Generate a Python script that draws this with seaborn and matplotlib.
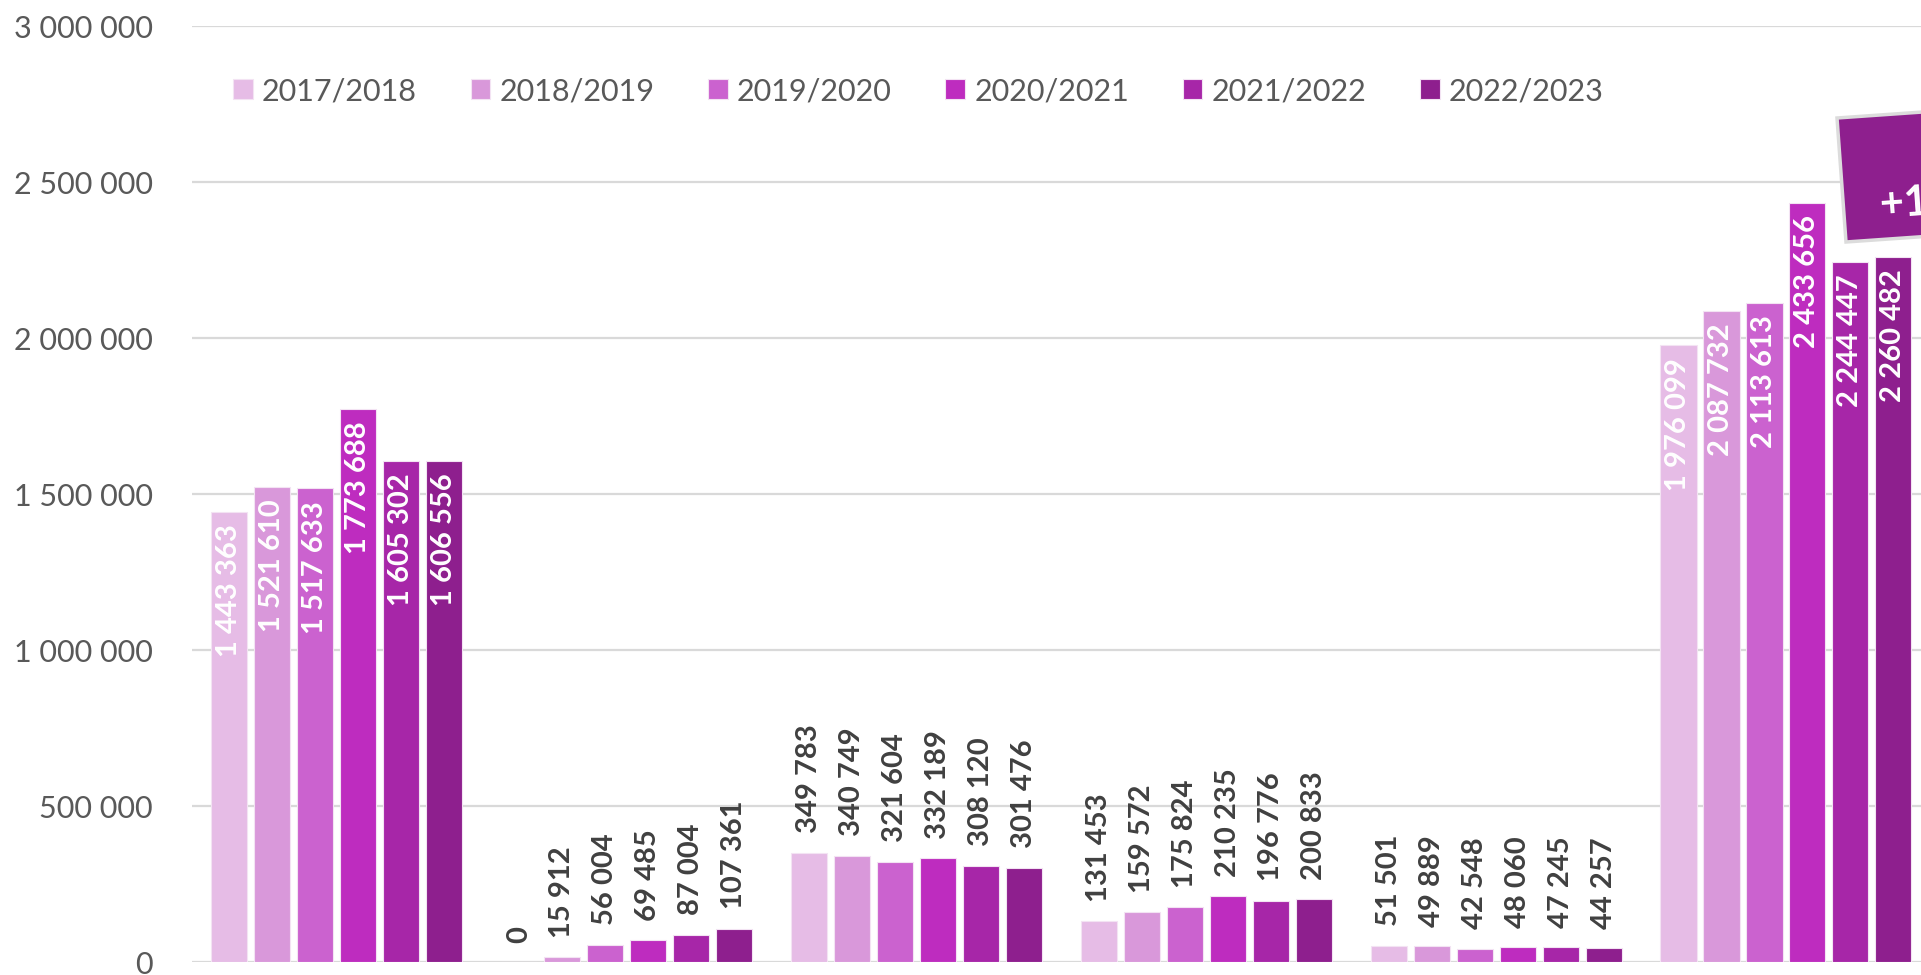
import pandas as pd
import seaborn as sns
import matplotlib.pyplot as plt
from matplotlib.patches import Polygon
from matplotlib.ticker import FuncFormatter
import math

# Data
years = ['2017/2018', '2018/2019', '2019/2020', '2020/2021', '2021/2022', '2022/2023']
categories = ['Groupe A', 'Groupe B', 'Groupe C', 'Groupe D', 'Groupe E', 'Groupe F']
group_a = [1443363, 1521610, 1517633, 1773688, 1605302, 1606556]
group_b = [0, 15912, 56004, 69485, 87004, 107361]
group_c = [349783, 340749, 321604, 332189, 308120, 301476]
group_d = [131453, 159572, 175824, 210235, 196776, 200833]
group_e = [51501, 49889, 42548, 48060, 47245, 44257]
group_f = [1976099, 2087732, 2113613, 2433656, 2244447, 2260482]
colors = ['#E6BCE6', '#D998DA', '#CB62CF', '#BE2CBF', '#A726A8', '#8E1F8E']
callout_text = '+14 %'

# Long format table for seaborn
rows = []
for cat, vals in zip(categories, [group_a, group_b, group_c, group_d, group_e, group_f]):
    for year, v in zip(years, vals):
        rows.append({'categorie': cat, 'annee': year, 'valeur': v})
df = pd.DataFrame(rows)

sns.set_theme(style='white')
plt.rcParams['font.family'] = ['Lato', 'DejaVu Sans']

W, H = 1921, 975
fig = plt.figure(figsize=(W / 100, H / 100), dpi=100)
ax = fig.add_axes([192 / W, 13 / H, (W - 192) / W, 936 / H])

sns.barplot(data=df, x='categorie', y='valeur', hue='annee', palette=colors,
            width=0.89, gap=0.16, saturation=1, errorbar=None,
            linewidth=0.8, edgecolor='#F3E3F3', ax=ax)

ax.set_ylim(0, 3000000)
ax.set_xlim(-0.5, 5.466)
ax.set_yticks(range(0, 3000001, 500000))
ax.yaxis.set_major_formatter(FuncFormatter(lambda v, p: f'{v:,.0f}'.replace(',', ' ')))
ax.tick_params(axis='y', length=0, pad=28, labelsize=22, labelcolor='#595959')
ax.tick_params(axis='x', labelbottom=False, length=0)
ax.set_xlabel('')
ax.set_ylabel('')
ax.grid(axis='y', color='#D9D9D9', linewidth=1.6)
ax.set_axisbelow(True)
for s in ax.spines.values():
    s.set_visible(False)

# Data labels
fmt = lambda v: f'{v:,.0f}'.replace(',', ' ')
for container in ax.containers:
    for bar, val in zip(container, container.datavalues):
        xc = bar.get_x() + bar.get_width() / 2
        top = bar.get_height()
        if val > 1000000:
            ax.annotate(fmt(val), (xc, top), xytext=(0, -9), textcoords='offset points',
                        rotation=90, ha='center', va='top', color='white',
                        fontsize=21, fontweight='bold')
        else:
            ax.annotate(fmt(val), (xc, top), xytext=(0, 14), textcoords='offset points',
                        rotation=90, ha='center', va='bottom', color='#404040',
                        fontsize=21, fontweight='bold')

# Legend
sns.move_legend(ax, 'center left', bbox_to_anchor=(233 / W, 1 - 91 / H),
                bbox_transform=fig.transFigure, ncol=6, frameon=False, title=None,
                fontsize=22, handlelength=0.65, handleheight=0.65, handletextpad=0.3,
                columnspacing=1.75, borderpad=0, borderaxespad=0)
for t in ax.get_legend().get_texts():
    t.set_color('#595959')

# Callout box (partly cut by the right edge, as in the original)
ang = math.radians(4)
tl = (1837, 118)
bl = (1846, 242)
bw = 260
tr = (tl[0] + bw * math.cos(ang), tl[1] - bw * math.sin(ang))
br = (bl[0] + bw * math.cos(ang), bl[1] - bw * math.sin(ang))
pts = [(x / W, 1 - y / H) for x, y in [tl, tr, br, bl]]
fig.patches.append(Polygon(pts, closed=True, transform=fig.transFigure,
                           facecolor='#8E1F8E', edgecolor='#DCDCDC', linewidth=2.5))
fig.text(1880 / W, 1 - 206 / H, callout_text, rotation=4, rotation_mode='anchor',
         ha='left', va='center', color='white', fontsize=30, fontweight='bold')

fig.savefig('out.png', dpi=100)
